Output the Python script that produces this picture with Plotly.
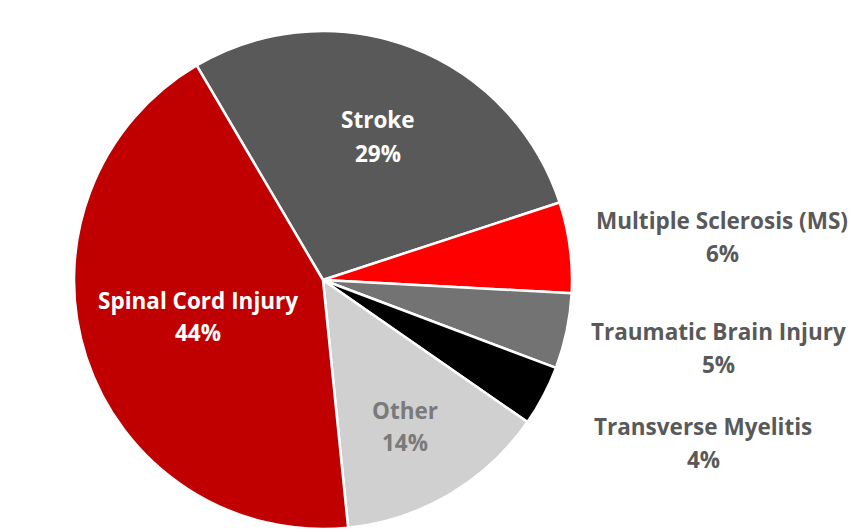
import plotly.graph_objects as go

labels = ["Stroke", "Multiple Sclerosis (MS)", "Traumatic Brain Injury",
          "Transverse Myelitis", "Other", "Spinal Cord Injury"]
values = [29, 6, 5, 4, 14, 44]
colors = ["#595959", "#FF0000", "#737373", "#000000", "#D0D0D0", "#C00000"]
text_colors = ["#FFFFFF", "#595959", "#595959", "#595959", "#7A7A7A", "#FFFFFF"]
# label anchor positions (pixel centres of the two text lines) in an 851x529 canvas
label_pos = [(378, 119, 153), (722, 220, 254), (718, 331, 364),
             (703, 426, 459), (405, 410, 442), (198, 300, 332)]

W, H = 851, 529
cx, cy, r = 323, 280, 249

fig = go.Figure(go.Pie(
    labels=labels, values=values, sort=False, direction="clockwise",
    rotation=-30.5,
    marker=dict(colors=colors, line=dict(color="white", width=2.5)),
    textinfo="none", hoverinfo="label+percent", showlegend=False,
    domain=dict(x=[(cx - r) / W, (cx + r) / W], y=[(H - cy - r) / H, (H - cy + r) / H]),
))

font_family = "Open Sans, Lato, sans-serif"
for lab, val, tc, (x, y1, y2) in zip(labels, values, text_colors, label_pos):
    for txt, yy in ((lab, y1), (f"{val}%", y2)):
        fig.add_annotation(
            x=x / W, y=1 - yy / H, xref="paper", yref="paper",
            text=f"<b>{txt}</b>", showarrow=False,
            font=dict(family=font_family, size=22.5, color=tc),
            xanchor="center", yanchor="middle",
        )

fig.update_layout(
    width=W, height=H, margin=dict(l=0, r=0, t=0, b=0),
    paper_bgcolor="white", plot_bgcolor="white",
)
fig.write_html("out.html", config={"displayModeBar": False},
               post_script="document.body.style.margin='0';")
